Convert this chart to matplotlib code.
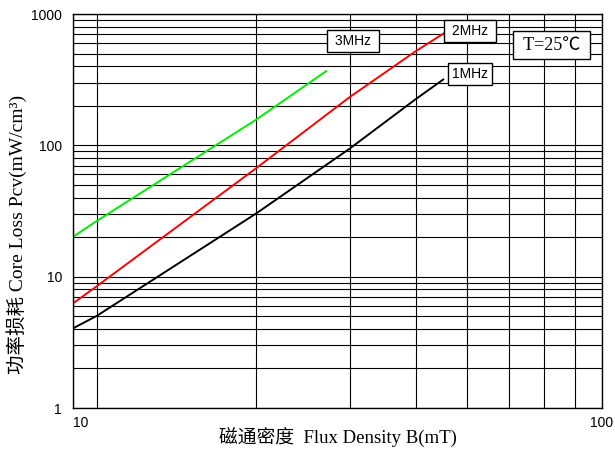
import matplotlib
matplotlib.use('Agg')
import matplotlib.pyplot as plt
from matplotlib.ticker import FixedLocator, NullFormatter

# data (B in mT, Pcv in mW/cm3)
b_1mhz = [10, 11.1, 22.2, 33.3, 44.4, 50.1]
p_1mhz = [4.04, 5.04, 30.3, 94, 224, 317]
b_2mhz = [10, 11.1, 22.2, 33.3, 44.4, 50.4]
p_2mhz = [6.26, 8.48, 67, 232, 519, 718]
b_3mhz = [10, 11.1, 22.2, 30.1]
p_3mhz = [20.1, 26.6, 157, 367]

xticks = [10, 100]
yticks = [1, 10, 100, 1000]

serif = ['Liberation Serif', 'Noto Sans CJK SC']
sans = ['Liberation Sans', 'DejaVu Sans']

fig = plt.figure(figsize=(6.15, 4.53), dpi=100)
ax = fig.add_axes([73/615, 1-408/453, 529/615, 394/453])
ax.set_xscale('log')
ax.set_yscale('log')
ax.set_xlim(10, 100)
ax.set_ylim(1, 1000)

# grid (the original x grid sits at 100/9 steps)
xminor = [100/9*k for k in range(1, 9)]
yminor = [k*10**d for d in range(3) for k in range(2, 10)]
ax.xaxis.set_major_locator(FixedLocator(xticks))
ax.xaxis.set_minor_locator(FixedLocator(xminor))
ax.yaxis.set_major_locator(FixedLocator(yticks))
ax.yaxis.set_minor_locator(FixedLocator(yminor))
ax.xaxis.set_minor_formatter(NullFormatter())
ax.yaxis.set_minor_formatter(NullFormatter())
ax.set_xticklabels([str(v) for v in xticks], fontfamily=sans, fontsize=10)
ax.set_yticklabels([str(v) for v in yticks], fontfamily=sans, fontsize=10)
ax.xaxis.get_ticklabels()[0].set_ha('left')
ax.tick_params(which='both', length=0)
ax.tick_params(axis='x', pad=6)
ax.tick_params(axis='y', pad=8)
ax.grid(which='both', color='black', linewidth=0.8)
ax.set_axisbelow(True)
for s in ax.spines.values():
    s.set_linewidth(1.0)

ax.plot(b_1mhz, p_1mhz, color='black', lw=1.4)
ax.plot(b_2mhz, p_2mhz, color='#ff0000', lw=1.4)
ax.plot(b_3mhz, p_3mhz, color='#00ee00', lw=1.4)

box = dict(boxstyle='square,pad=0.3', fc='white', ec='black', lw=1)
ax.text(0.529, 0.932, ' 3MHz ', transform=ax.transAxes, ha='center', va='center',
        fontfamily=sans, fontsize=10, bbox=box)
ax.text(0.750, 0.957, ' 2MHz ', transform=ax.transAxes, ha='center', va='center',
        fontfamily=sans, fontsize=10, bbox=box)
ax.text(0.750, 0.848, '1MHz', transform=ax.transAxes, ha='center', va='center',
        fontfamily=sans, fontsize=10, bbox=box)
ax.text(0.9045, 0.9206, ' T=25℃ ', transform=ax.transAxes, ha='center', va='center',
        fontfamily=serif, fontsize=13, bbox=box)

ax.set_xlabel('磁通密度  Flux Density B(mT)', fontfamily=serif, fontsize=13.5, va='center')
ax.xaxis.set_label_coords(0.5, -0.074)
ax.set_ylabel('功率损耗 Core Loss Pcv(mW/cm³)', fontfamily=serif, fontsize=14, va='center')
ax.yaxis.set_label_coords(-0.106, 0.44)

plt.savefig('out.png', dpi=100)
